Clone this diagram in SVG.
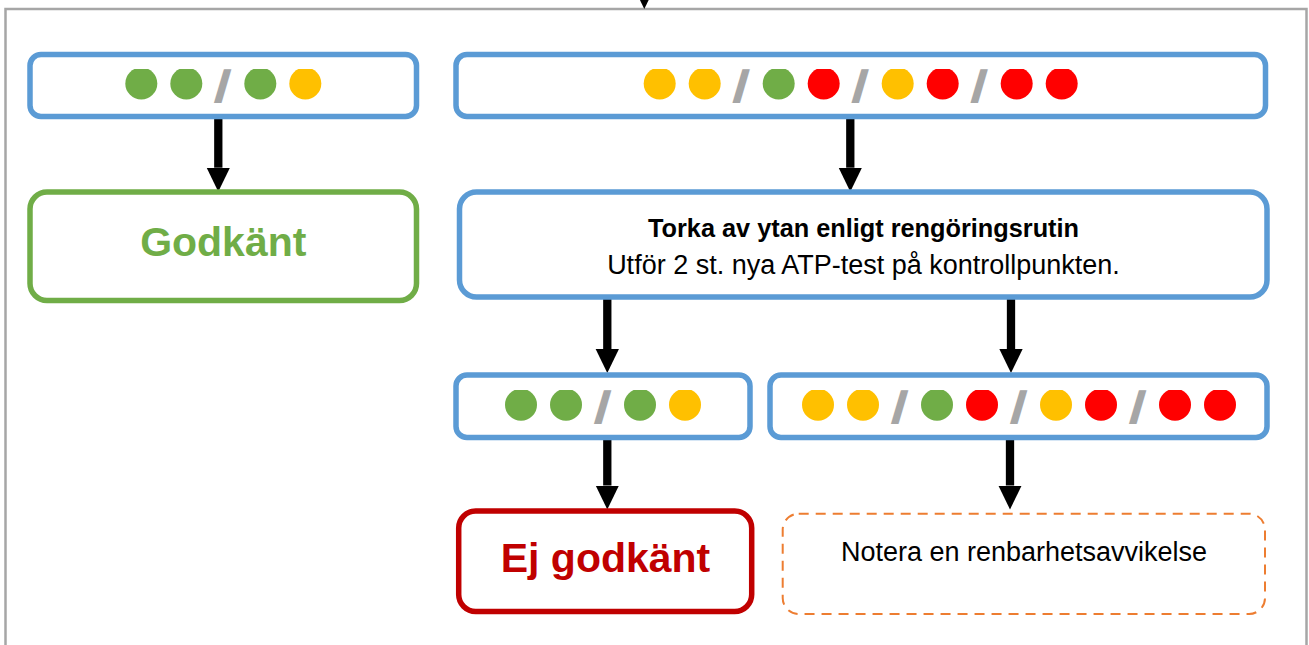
<svg xmlns="http://www.w3.org/2000/svg" width="1309" height="645" viewBox="0 0 1309 645">
  <style>
    .frame { fill: none; stroke: #A6A6A6; stroke-width: 2.5; }
    .blue { fill: #FFFFFF; stroke: #5B9BD5; stroke-width: 5.5; }
    .green { fill: #FFFFFF; stroke: #70AD47; stroke-width: 5.5; }
    .red { fill: #FFFFFF; stroke: #C00000; stroke-width: 5.5; }
    .dash { fill: #FFFFFF; stroke: #ED7D31; stroke-width: 2; stroke-dasharray: 10 7; }
    .g { fill: #70AD47; }
    .y { fill: #FFC000; }
    .r { fill: #FF0000; }
    .sl { font-family: "Liberation Sans", Arial, sans-serif; font-weight: bold; font-size: 42px; fill: #A6A6A6; stroke: #A6A6A6; stroke-width: 2.5; text-anchor: middle; }
    .big { font-family: "Liberation Sans", Arial, sans-serif; font-weight: bold; font-size: 41px; text-anchor: middle; }
    .txt { font-family: "Liberation Sans", Arial, sans-serif; font-size: 27px; fill: #000000; text-anchor: middle; }
    .txtb { font-family: "Liberation Sans", Arial, sans-serif; font-weight: bold; font-size: 25.3px; fill: #000000; text-anchor: middle; }
    .conn { stroke: #000000; stroke-width: 8.3; fill: none; marker-end: url(#ah); }
  </style>
  <defs>
    <marker id="ah" viewBox="0 0 24 24" markerWidth="24" markerHeight="24" markerUnits="userSpaceOnUse" refX="0" refY="12" orient="auto">
      <path d="M0,0.35 L24,12 L0,23.65 Z" fill="#000000"/>
    </marker>
    <clipPath id="row1" clipPathUnits="userSpaceOnUse"><rect x="0" y="69" width="1309" height="40"/></clipPath>
    <clipPath id="row3" clipPathUnits="userSpaceOnUse"><rect x="0" y="390" width="1309" height="40"/></clipPath>
  </defs>

  <rect class="frame" x="5.5" y="9" width="1301" height="700"/>

  <g id="connectors">
    <line class="conn" x1="644.3" y1="-40" x2="644.3" y2="-15"/>
    <line class="conn" x1="218.3" y1="117" x2="218.3" y2="167.7"/>
    <line class="conn" x1="850.3" y1="117" x2="850.3" y2="167.7"/>
    <line class="conn" x1="607.3" y1="298" x2="607.3" y2="349"/>
    <line class="conn" x1="1011" y1="298" x2="1011" y2="349"/>
    <line class="conn" x1="607.3" y1="438" x2="607.3" y2="485.5"/>
    <line class="conn" x1="1010" y1="438" x2="1010" y2="485.5"/>
  </g>

  <g id="test-pass-1">
    <rect class="blue" x="30" y="54.5" width="386.5" height="62" rx="11"/>
    <g clip-path="url(#row1)">
      <circle class="g" cx="141.3" cy="83.5" r="16"/>
      <circle class="g" cx="186.3" cy="83.5" r="16"/>
      <circle class="g" cx="260.3" cy="83.5" r="16"/>
      <circle class="y" cx="305.3" cy="83.5" r="16"/>
    </g>
    <text class="sl" transform="translate(221,100.5) skewX(-6)">/</text>
  </g>

  <g id="test-fail-1">
    <rect class="blue" x="456" y="54.5" width="809.5" height="62" rx="11"/>
    <g clip-path="url(#row1)">
      <circle class="y" cx="659.7" cy="83.5" r="16"/>
      <circle class="y" cx="704.7" cy="83.5" r="16"/>
      <circle class="g" cx="778.7" cy="83.5" r="16"/>
      <circle class="r" cx="823.7" cy="83.5" r="16"/>
      <circle class="y" cx="897.7" cy="83.5" r="16"/>
      <circle class="r" cx="942.7" cy="83.5" r="16"/>
      <circle class="r" cx="1016.7" cy="83.5" r="16"/>
      <circle class="r" cx="1061.7" cy="83.5" r="16"/>
    </g>
    <text class="sl" transform="translate(739.7,100.5) skewX(-6)">/</text>
    <text class="sl" transform="translate(858.7,100.5) skewX(-6)">/</text>
    <text class="sl" transform="translate(977.7,100.5) skewX(-6)">/</text>
  </g>

  <g id="godkant">
    <rect class="green" x="30" y="192" width="386.5" height="108.5" rx="17"/>
    <text class="big" x="223.3" y="256" fill="#70AD47">Godkänt</text>
  </g>

  <g id="torka">
    <rect class="blue" x="459.5" y="192" width="807.5" height="105" rx="17"/>
    <text class="txtb" x="863.5" y="237">Torka av ytan enligt rengöringsrutin</text>
    <text class="txt" x="863.5" y="274">Utför 2 st. nya ATP-test på kontrollpunkten.</text>
  </g>

  <g id="test-pass-2">
    <rect class="blue" x="456" y="375" width="294" height="62.5" rx="11"/>
    <g clip-path="url(#row3)">
      <circle class="g" cx="521" cy="404.7" r="16"/>
      <circle class="g" cx="566" cy="404.7" r="16"/>
      <circle class="g" cx="640" cy="404.7" r="16"/>
      <circle class="y" cx="685" cy="404.7" r="16"/>
    </g>
    <text class="sl" transform="translate(601,421.5) skewX(-6)">/</text>
  </g>

  <g id="test-fail-2">
    <rect class="blue" x="770" y="375" width="497" height="62.5" rx="11"/>
    <g clip-path="url(#row3)">
      <circle class="y" cx="818" cy="404.7" r="16"/>
      <circle class="y" cx="863" cy="404.7" r="16"/>
      <circle class="g" cx="937" cy="404.7" r="16"/>
      <circle class="r" cx="982" cy="404.7" r="16"/>
      <circle class="y" cx="1056" cy="404.7" r="16"/>
      <circle class="r" cx="1101" cy="404.7" r="16"/>
      <circle class="r" cx="1175" cy="404.7" r="16"/>
      <circle class="r" cx="1220" cy="404.7" r="16"/>
    </g>
    <text class="sl" transform="translate(898,421.5) skewX(-6)">/</text>
    <text class="sl" transform="translate(1017,421.5) skewX(-6)">/</text>
    <text class="sl" transform="translate(1136,421.5) skewX(-6)">/</text>
  </g>

  <g id="ej-godkant">
    <rect class="red" x="458.7" y="511" width="293" height="100.5" rx="17"/>
    <text class="big" x="605.5" y="572.3" fill="#C00000">Ej godkänt</text>
  </g>

  <g id="notera">
    <rect class="dash" x="782.7" y="513.7" width="482.3" height="100.3" rx="16"/>
    <text class="txt" x="1024" y="561.3" font-size="26.8">Notera en renbarhetsavvikelse</text>
  </g>
</svg>
